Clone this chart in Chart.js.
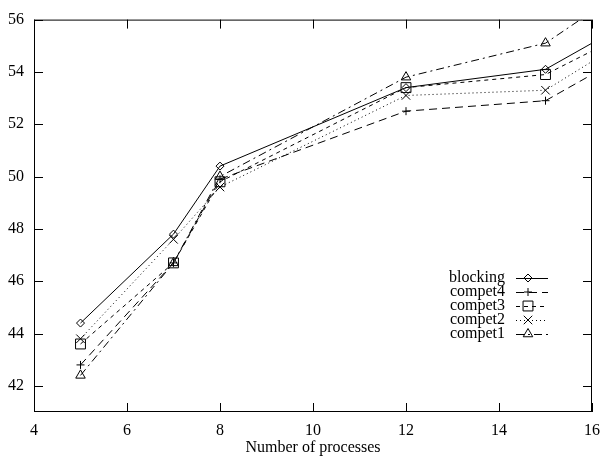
<!DOCTYPE html>
<html>
<head>
<meta charset="utf-8">
<script src="https://cdn.jsdelivr.net/npm/chart.js@4/dist/chart.umd.min.js"></script>
<style>
  html, body { margin: 0; padding: 0; background: #fff; }
</style>
</head>
<body>
<canvas id="procChart" width="609" height="459"></canvas>
<script>
// Data
const processes = [5, 7, 8, 12, 15, 16];
const blocking = [44.4, 47.8, 50.4, 53.4, 54.1, 55.1];
const compet4  = [42.8, 46.7, 49.9, 52.5, 52.9, 53.9];
const compet3  = [43.6, 46.7, 49.8, 53.4, 53.9, 54.8];
const compet2  = [43.8, 47.6, 49.6, 53.1, 53.3, 54.4];
const compet1  = [42.4, 46.7, 50.0, 53.8, 55.1, 56.3];
const xTicks = [4, 6, 8, 10, 12, 14, 16];
const yTicks = [42, 44, 46, 48, 50, 52, 54, 56];

const FONT = "'Liberation Serif', 'Times New Roman', serif";

function series(label, values, style, radius, dash) {
    return {
        label: label,
        data: processes.map((x, i) => ({ x: x, y: values[i] })),
        borderColor: '#000',
        borderWidth: 1,
        borderDash: dash,
        pointStyle: style,
        // the last point sits on the right border, no marker there
        pointRadius: c => c.dataIndex === processes.length - 1 ? 0 : radius,
        legendRadius: radius,
        pointBorderColor: '#000',
        pointBackgroundColor: 'rgba(0,0,0,0)',
        pointBorderWidth: 1,
        tension: 0,
        fill: false
    };
}

// gnuplot-like frame with inward ticks
const framePlugin = {
    id: 'frame',
    afterDatasetsDraw(chart) {
        const { ctx, chartArea: a, scales } = chart;
        ctx.save();
        ctx.strokeStyle = '#000';
        ctx.lineWidth = 1;
        ctx.strokeRect(a.left + 0.5, a.top + 0.5, a.right - a.left - 1, a.bottom - a.top - 1);
        ctx.beginPath();
        xTicks.forEach(v => {
            const px = Math.round(scales.x.getPixelForValue(v)) + 0.5;
            ctx.moveTo(px, a.bottom); ctx.lineTo(px, a.bottom - 9);
            ctx.moveTo(px, a.top); ctx.lineTo(px, a.top + 9);
        });
        yTicks.forEach(v => {
            const py = Math.round(scales.y.getPixelForValue(v)) + 0.5;
            ctx.moveTo(a.left, py); ctx.lineTo(a.left + 9, py);
            ctx.moveTo(a.right, py); ctx.lineTo(a.right - 9, py);
        });
        ctx.stroke();

        // key in the lower right
        ctx.font = '16px ' + FONT;
        ctx.textAlign = 'right';
        ctx.textBaseline = 'middle';
        chart.data.datasets.forEach((ds, i) => {
            const y = 278 + i * 14;
            ctx.fillStyle = '#000';
            ctx.fillText(ds.label, 505, y);
            ctx.save();
            ctx.setLineDash(ds.borderDash);
            ctx.beginPath();
            ctx.moveTo(516, y + 0.5);
            ctx.lineTo(548, y + 0.5);
            ctx.stroke();
            ctx.restore();
            ctx.fillStyle = 'rgba(0,0,0,0)';
            Chart.helpers.drawPoint(ctx, {
                pointStyle: ds.pointStyle,
                radius: ds.legendRadius,
                rotation: 0,
                borderWidth: 1
            }, 528, y);
        });
        ctx.restore();
    }
};

new Chart(document.getElementById('procChart').getContext('2d'), {
    type: 'line',
    data: {
        datasets: [
            series('blocking', blocking, 'rectRot', 4, []),
            series('compet4', compet4, 'cross', 4, [8, 5]),
            series('compet3', compet3, 'rect', 7, [4, 4]),
            series('compet2', compet2, 'crossRot', 6, [1, 3]),
            series('compet1', compet1, 'triangle', 5.5, [8, 4, 2, 4])
        ]
    },
    options: {
        responsive: false,
        animation: false,
        layout: { padding: { top: 10, right: 9, left: 0, bottom: 0 } },
        plugins: {
            legend: { display: false },
            tooltip: { enabled: false }
        },
        scales: {
            x: {
                type: 'linear',
                min: 4,
                max: 16,
                grid: { display: false, drawTicks: false },
                border: { display: false },
                afterBuildTicks: s => { s.ticks = xTicks.map(v => ({ value: v })); },
                afterFit: s => { s.height = 47; },
                ticks: { color: '#000', padding: 9, maxRotation: 0, font: { family: FONT, size: 16 } },
                title: {
                    display: true,
                    text: 'Number of processes',
                    color: '#000',
                    font: { family: FONT, size: 16 },
                    padding: { top: 0, bottom: 2 }
                }
            },
            y: {
                min: 41,
                max: 56,
                grid: { display: false, drawTicks: false },
                border: { display: false },
                afterBuildTicks: s => { s.ticks = yTicks.map(v => ({ value: v })); },
                afterFit: s => { s.width = 34; },
                ticks: { color: '#000', padding: 10, font: { family: FONT, size: 16 } }
            }
        }
    },
    plugins: [framePlugin]
});
</script>
</body>
</html>
